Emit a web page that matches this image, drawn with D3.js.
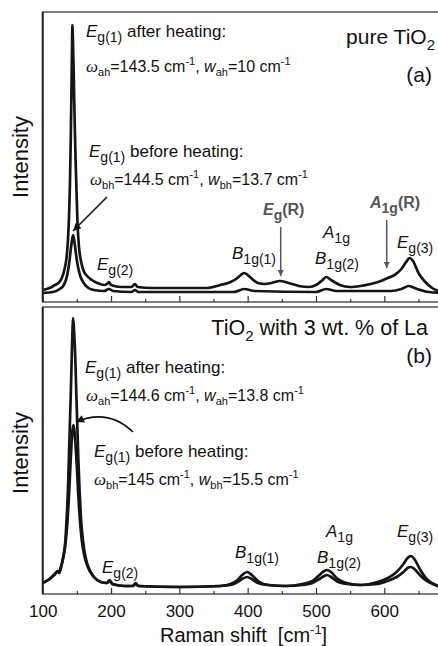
<!DOCTYPE html>
<html><head><meta charset="utf-8">
<script src="https://cdn.jsdelivr.net/npm/d3@7"></script>
<style>html,body{margin:0;padding:0;background:#fff;}svg{display:block;}</style>
</head><body>
<svg id="c" width="438" height="646"></svg>
<script>
// ---------- DATA (arbitrary intensity units) ----------
const xTicks = [100, 200, 300, 400, 500, 600];
const xMinorTicks = [150, 250, 350, 450, 550, 650];

// Panel (a) pure TiO2 - after heating
const shiftA_after = [100,110,118,123,128,132,135,137,139,140,141,142,143,143.5,144,145,146,147,148,149,151,153,156,160,165,172,180,190,194,197,200,215,230,235,239,260,300,340,360,375,385,390,395,400,405,415,425,435,447,460,475,490,500,508,515,522,535,550,565,580,595,605,615,625,632,637,642,650,660,670,690];
const intensA_after = [12,14,17,19,24,33,45,62,95,122,160,207,258,277,268,241,207,174,146,122,78,56,41,31,26,22,19,17,18,20,17,15,15,18,15,14,14,14,17,20,24,27,29,27,24,19,18,19,21,19,16,15,17,21,25,22,17,15,16,18,21,24,27,33,40,44,41,29,20,14,9];
// Panel (a) pure TiO2 - before heating
const shiftA_before = [100,115,125,130,134,137,139,141,142.5,144.5,146.5,148,150,152,155,160,167,175,190,197,203,230,235,240,300,380,395,410,500,515,530,610,625,636,648,665,690];
const intensA_before = [9,10,13,16,22,31,40,52,60,67,60,52,42,34,26,19,14,12,11,13,11,10,12,10,10,10,13,11,10,13,11,11,13,16,13,10,9];

// Panel (b) TiO2 + 3 wt.% La - after heating
const shiftB_after = [100,110,118,122,124,126,130,133,135,137,138.5,140,141.5,143,144.6,146,147.5,149,150.5,152,154,156,159,163,168,175,185,194,198,202,220,232,236,240,300,360,375,385,392,399,406,415,430,457,480,495,505,512,516,522,530,545,565,590,605,618,628,634,639,644,652,662,675,690];
const intensB_after = [11,15,20,23,21,25,37,52,75,105,140,175,210,250,276,262,240,205,172,138,103,76,53,36,25,17,12,11,14,10,8,8,11,8,7,8,10,14,19,22,19,13,9,8,10,13,19,23,24,22,16,11,9,12,16,22,30,36,38,35,25,15,9,6];
// Panel (b) TiO2 + 3 wt.% La - before heating
const shiftB_before = [100,110,118,122,124,126,130,133,136,138,140,142,143.5,145,146.5,148,150,152,154,157,161,166,175,185,194,198,202,220,232,236,240,300,360,375,385,392,399,406,415,430,457,480,495,505,512,516,522,530,545,565,590,605,618,628,634,639,644,652,662,675,690];
const intensB_before = [11,15,20,23,21,25,36,48,70,92,120,148,163,169,163,150,127,100,78,55,38,27,17,12,11,13,10,8,8,10,8,7,8,9,12,15,17,15,11,9,8,9,11,15,18,19,17,13,10,9,10,13,17,22,26,27,25,19,13,9,6];

// ---------- LAYOUT ----------
const svg = d3.select('#c');
const FONT = 'Arial, "Liberation Sans", Helvetica, sans-serif';
const SERIF = '"Liberation Serif", "DejaVu Serif", "Times New Roman", serif';
const left = 42.7, right = 445.8;
const x = d3.scaleLinear().domain([100, 690]).range([left, right]);
const panels = [
  {top: 12, bottom: 302, ymax: 290, series: [[shiftA_after, intensA_after],[shiftA_before, intensA_before]], id: 'a'},
  {top: 307, bottom: 594, ymax: 287, series: [[shiftB_after, intensB_after],[shiftB_before, intensB_before]], id: 'b'}
];

const defs = svg.append('defs');
function marker(id, color, w, h) {
  defs.append('marker').attr('id', id).attr('viewBox', '0 0 10 10').attr('refX', 10).attr('refY', 5)
    .attr('markerWidth', w).attr('markerHeight', h).attr('markerUnits', 'userSpaceOnUse').attr('orient', 'auto')
    .append('path').attr('d', 'M0,0 L10,5 L0,10 Z').attr('fill', color);
}
marker('arrBlack', '#111', 11, 8);
marker('arrGray', '#555', 9, 6);

panels.forEach(p => {
  const y = d3.scaleLinear().domain([0, p.ymax]).range([p.bottom, p.top]);
  const clipId = 'clip' + p.id;
  defs.append('clipPath').attr('id', clipId).append('rect')
    .attr('x', left).attr('y', p.top).attr('width', right - left).attr('height', p.bottom - p.top);
  const g = svg.append('g');
  const line = d3.line().x(d => x(d[0])).y(d => y(d[1])).curve(d3.curveMonotoneX);
  p.series.forEach(([xs, ys]) => {
    g.append('path').attr('clip-path', `url(#${clipId})`)
      .datum(xs.map((v, i) => [v, ys[i]]))
      .attr('d', line).attr('fill', 'none').attr('stroke', '#151515')
      .attr('stroke-width', 2.7).attr('stroke-linejoin', 'round');
  });
  // frame
  g.append('rect').attr('x', left).attr('y', p.top).attr('width', right - left).attr('height', p.bottom - p.top)
    .attr('fill', 'none').attr('stroke', '#3a3a3a').attr('stroke-width', 1.3);
  g.append('line').attr('x1', left).attr('x2', left).attr('y1', p.top).attr('y2', p.bottom)
    .attr('stroke', '#222').attr('stroke-width', 2);
  // ticks (inward)
  const ax = d3.axisBottom(x).tickValues(xTicks).tickSize(-6).tickPadding(11).tickFormat(p.id === 'b' ? d3.format('d') : () => '');
  const axg = svg.append('g').attr('transform', `translate(0,${p.bottom})`).call(ax);
  axg.select('.domain').remove();
  axg.selectAll('line').attr('stroke', '#333').attr('stroke-width', 1.2);
  axg.selectAll('text').attr('font-family', FONT).attr('font-size', 17).attr('fill', '#111');
  const axm = d3.axisBottom(x).tickValues(xMinorTicks).tickSize(-3).tickFormat(() => '');
  const axmg = svg.append('g').attr('transform', `translate(0,${p.bottom})`).call(axm);
  axmg.select('.domain').remove();
  axmg.selectAll('line').attr('stroke', '#333').attr('stroke-width', 1.2);
  // y label
  svg.append('text').attr('transform', `translate(28,${(p.id === 'a' ? 157 : 453)}) rotate(-90)`)
    .attr('text-anchor', 'middle').attr('font-family', FONT).attr('font-size', 22).attr('fill', '#111').text('Intensity');
});

// x-axis title
const xt = svg.append('text').attr('x', 160).attr('y', 642).attr('font-family', FONT).attr('font-size', 20)
  .attr('fill', '#111').style('white-space', 'pre');
xt.append('tspan').text('Raman shift\u00A0\u00A0[cm');
xt.append('tspan').text('-1').attr('font-size', 13).attr('dy', -8);
xt.append('tspan').text(']').attr('dy', 8);

// ---------- rich text helper ----------
function rich(x0, y0, parts, opt = {}) {
  const t = svg.append('text').attr('x', x0).attr('y', y0).attr('font-family', FONT)
    .attr('font-size', opt.size || 17).attr('fill', opt.color || '#111');
  if (opt.anchor) t.attr('text-anchor', opt.anchor);
  if (opt.bold) t.attr('font-weight', 'bold');
  let cur = 0;
  parts.forEach(pt => {
    const s = t.append('tspan').text(pt.t);
    const off = pt.off || 0;
    if (off !== cur) { s.attr('dy', off - cur); cur = off; }
    if (pt.i) s.attr('font-style', 'italic');
    if (pt.size) s.attr('font-size', pt.size);
    if (pt.serif) s.attr('font-family', SERIF);
  });
  return t;
}
const E = (sub, extra) => [{t: 'E', i: true}, {t: sub, size: 14, off: 5}].concat(extra ? [{t: extra, off: 0}] : []);
const B = (sub) => [{t: 'B', i: true}, {t: sub, size: 14, off: 5}];
const A = (sub) => [{t: 'A', i: true}, {t: sub, size: 14, off: 5}];
const W = (a, b, c, d) => [
  {t: 'ω', i: true, serif: true, size: 17}, {t: a, size: 11, off: 4}, {t: '=' + b + ' cm'},
  {t: '-1', size: 11, off: -7}, {t: ', ', off: 0}, {t: 'w', i: true}, {t: c, size: 11, off: 4},
  {t: '=' + d + ' cm', off: 0}, {t: '-1', size: 11, off: -7}];

// Panel (a) annotations
rich(86, 37, E('g(1)', ' after heating:'));
rich(86, 72, W('ah', '143.5', 'ah', '10'), {size: 16});
rich(435, 44, [{t: 'pure TiO'}, {t: '2', size: 15, off: 6}], {size: 21, anchor: 'end'});
rich(432, 82, [{t: '(a)'}], {size: 21, anchor: 'end'});
rich(89, 157, E('g(1)', ' before heating:'));
rich(90, 185, W('bh', '144.5', 'bh', '13.7'), {size: 16});
rich(97, 270, E('g(2)'));
rich(232, 259, B('1g(1)'));
rich(263, 215, [{t: 'E', i: true}, {t: 'g', size: 14, off: 5}, {t: '(R)', off: 0}], {bold: true, color: '#555', size: 16});
rich(323, 238, A('1g'));
rich(315, 264, B('1g(2)'));
rich(370, 208, [{t: 'A', i: true}, {t: '1g', size: 14, off: 5}, {t: '(R)', off: 0}], {bold: true, color: '#555', size: 16});
rich(397, 248, E('g(3)'));

// Panel (b) annotations
rich(428, 335, [{t: 'TiO'}, {t: '2', size: 15, off: 6}, {t: ' with 3 wt. % of La', off: 0}], {size: 21.5, anchor: 'end'});
rich(432, 363, [{t: '(b)'}], {size: 21, anchor: 'end'});
rich(85, 373, E('g(1)', ' after heating:'));
rich(86, 401, W('ah', '144.6', 'ah', '13.8'), {size: 16});
rich(94, 457, E('g(1)', ' before heating:'));
rich(94, 485, W('bh', '145', 'bh', '15.5'), {size: 16});
rich(102, 573, E('g(2)'));
rich(235, 558, B('1g(1)'));
rich(326, 537, A('1g'));
rich(317, 563, B('1g(2)'));
rich(397, 537, E('g(3)'));

// arrows
svg.append('line').attr('x1', 107).attr('y1', 197).attr('x2', 73).attr('y2', 231)
  .attr('stroke', '#111').attr('stroke-width', 1.6).attr('marker-end', 'url(#arrBlack)');
svg.append('line').attr('x1', 280.7).attr('y1', 227).attr('x2', 280.7).attr('y2', 276)
  .attr('stroke', '#555').attr('stroke-width', 1.5).attr('marker-end', 'url(#arrGray)');
svg.append('line').attr('x1', 386.7).attr('y1', 220).attr('x2', 386.7).attr('y2', 268)
  .attr('stroke', '#555').attr('stroke-width', 1.5).attr('marker-end', 'url(#arrGray)');
svg.append('path').attr('d', 'M133,432 Q108,408 76,422').attr('fill', 'none')
  .attr('stroke', '#111').attr('stroke-width', 1.6).attr('marker-end', 'url(#arrBlack)');
</script>
</body></html>
